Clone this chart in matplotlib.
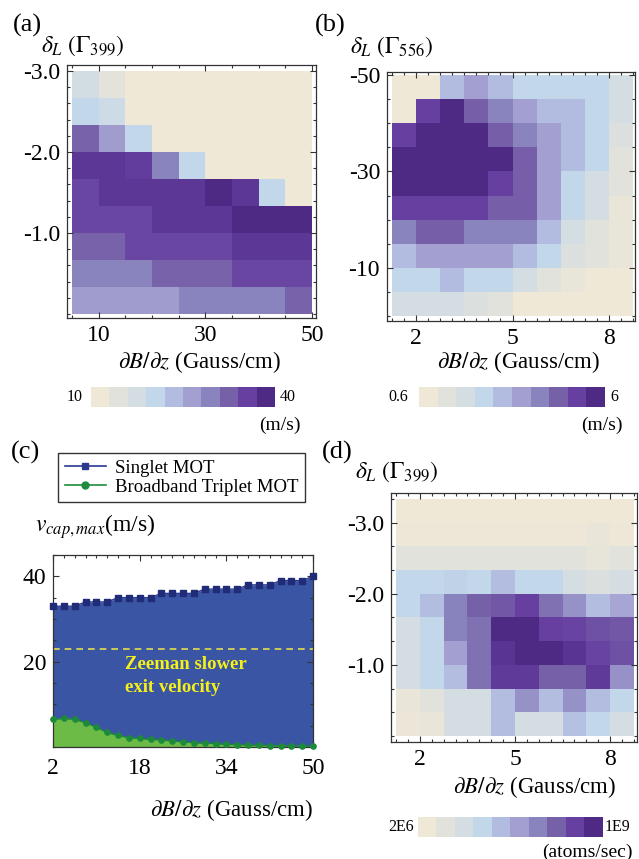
import numpy as np
import matplotlib
matplotlib.use('Agg')
import matplotlib.pyplot as plt
from matplotlib.colors import LinearSegmentedColormap, ListedColormap, Normalize, LogNorm
from matplotlib.ticker import AutoMinorLocator
from matplotlib.lines import Line2D

plt.rcParams['font.family'] = ['Liberation Serif', 'DejaVu Serif']
plt.rcParams['mathtext.fontset'] = 'stix'
plt.rcParams['axes.unicode_minus'] = False

# ---- data -------------------------------------------------------------
# (a) singlet MOT capture velocity (m/s), rows from delta=-3.0 (top) to 0
grad_a = np.arange(5, 51, 5)             # cell edges, Gauss/cm
det_a = np.linspace(-3.0, 0.0, 10)       # cell edges, Gamma_399
vcap_a = np.array([
    [17, 13, 10, 10, 10, 10, 10, 10, 10],
    [20, 18, 10, 10, 10, 10, 10, 10, 10],
    [33, 27, 20, 10, 10, 10, 10, 10, 10],
    [38, 38, 37, 30, 20, 10, 10, 10, 10],
    [36, 38, 38, 38, 38, 40, 38, 20, 10],
    [36, 36, 36, 38, 38, 38, 40, 40, 40],
    [33, 33, 36, 36, 36, 36, 38, 38, 38],
    [30, 30, 30, 33, 33, 33, 36, 36, 36],
    [27, 27, 27, 27, 30, 30, 30, 30, 33],
])

# (b) broadband triplet MOT capture velocity (m/s), rows from -50 (top) to 0
grad_bd = np.linspace(1.25, 8.75, 11)    # cell edges, Gauss/cm
det_b = np.linspace(-50, 0, 11)          # cell edges, Gamma_556
vcap_b = np.array([
    [0.6, 0.6, 3.0, 3.6, 3.0, 2.4, 2.4, 2.4, 2.4, 1.8],
    [0.6, 5.4, 6.0, 4.8, 4.2, 3.6, 3.0, 3.0, 2.4, 1.8],
    [5.4, 6.0, 6.0, 6.0, 4.8, 4.2, 3.6, 3.0, 2.4, 1.5],
    [6.0, 6.0, 6.0, 6.0, 6.0, 4.8, 3.6, 3.0, 2.4, 1.2],
    [6.0, 6.0, 6.0, 6.0, 5.4, 4.8, 3.6, 2.4, 1.8, 1.2],
    [5.4, 5.4, 5.4, 5.4, 4.8, 4.8, 3.6, 2.4, 1.8, 0.9],
    [4.2, 4.8, 4.8, 4.2, 4.2, 4.2, 3.0, 1.8, 1.2, 0.9],
    [3.0, 3.6, 3.6, 3.6, 3.6, 3.0, 2.4, 1.5, 1.2, 0.9],
    [2.4, 2.4, 3.0, 2.4, 2.4, 1.8, 1.2, 0.9, 0.6, 0.6],
    [1.8, 1.8, 1.8, 1.5, 1.2, 0.6, 0.6, 0.6, 0.6, 0.6],
])

# (c) maximum capture velocity vs gradient
grad_c = np.arange(2, 51, 2)
v_singlet = [33, 33, 33, 34, 34, 34, 35, 35, 35, 35, 36, 36, 36,
             36, 37, 37, 37, 37, 38, 38, 38, 39, 39, 39, 40]
v_triplet = [6.5, 6.7, 6.5, 5.7, 4.6, 3.4, 2.7, 2.2, 2.0, 1.8, 1.65, 1.4,
             1.2, 1.0, 0.9, 0.8, 0.6, 0.55, 0.45, 0.4, 0.3, 0.3, 0.2, 0.2, 0.15]
v_zeeman = 23

# (d) loading rate (atoms/sec), rows from -3.33 (top) to 0
det_d = np.linspace(-10 / 3, 0, 11)
load_d = np.array([
    [2.0e6, 2.0e6, 2.0e6, 2.0e6, 2.0e6, 2.0e6, 2.0e6, 2.0e6, 2.0e6, 2.0e6],
    [2.3e6, 2.3e6, 2.3e6, 2.3e6, 2.3e6, 2.3e6, 2.3e6, 2.3e6, 2.8e6, 2.3e6],
    [4.0e6, 4.0e6, 4.0e6, 4.0e6, 4.0e6, 4.0e6, 4.0e6, 4.0e6, 3.2e6, 4.0e6],
    [1.6e7, 1.6e7, 1.8e7, 1.6e7, 3.1e7, 1.6e7, 1.6e7, 7.9e6, 5.6e6, 7.9e6],
    [1.6e7, 3.1e7, 1.3e8, 2.5e8, 3.0e8, 5.0e8, 1.8e8, 9.0e7, 3.1e7, 5.5e7],
    [7.9e6, 1.6e7, 1.3e8, 1.8e8, 1.0e9, 1.0e9, 5.0e8, 4.5e8, 3.5e8, 3.0e8],
    [7.9e6, 1.6e7, 6.3e7, 1.8e8, 7.0e8, 1.0e9, 1.0e9, 7.0e8, 4.5e8, 3.5e8],
    [7.9e6, 1.6e7, 3.1e7, 1.8e8, 6.0e8, 6.0e8, 2.5e8, 2.5e8, 6.0e8, 9.0e7],
    [2.8e6, 4.0e6, 7.9e6, 7.9e6, 3.1e7, 9.0e7, 3.1e7, 9.0e7, 3.1e7, 1.6e7],
    [2.5e6, 2.8e6, 7.9e6, 7.9e6, 3.1e7, 7.9e6, 7.9e6, 2.8e7, 1.6e7, 7.9e6],
])

level_colors = ['#F0E8D6', '#E2E2DC', '#D3DDE2', '#C2D7EA', '#B2BCE0',
                '#A39FD0', '#8A84BE', '#7660A8', '#663FA0', '#4E2A84']
cmap = LinearSegmentedColormap.from_list('purples', level_colors)
cmap_steps = ListedColormap(level_colors)

# ---- layout helpers (pixels) -----------------------------------------
W, H = 639, 859
fig = plt.figure(figsize=(W / 100, H / 100), dpi=100)


def rect(l, t, r, b):
    return [l / W, 1 - b / H, (r - l) / W, (b - t) / H]


def ftext(x, y, s, **kw):
    kw.setdefault('ha', 'center')
    kw.setdefault('va', 'center')
    fig.text(x / W, 1 - y / H, s, **kw)


def style_frame(ax, xminor, yminor):
    for sp in ax.spines.values():
        sp.set_linewidth(0.9)
        sp.set_color('#333333')
    ax.tick_params(which='both', direction='in', top=True, right=True,
                   color='#333333', labelsize=17, width=0.8)
    ax.tick_params(which='major', length=4.5, pad=5)
    ax.tick_params(which='minor', length=2.5)
    ax.xaxis.set_minor_locator(AutoMinorLocator(xminor))
    ax.yaxis.set_minor_locator(AutoMinorLocator(yminor))


def heatmap(r, xe, ye, z, norm, xlim, ylim, xt, yt, ytl, xminor, yminor):
    ax = fig.add_axes(rect(*r))
    ax.pcolormesh(xe, ye, z, cmap=cmap, norm=norm, shading='flat',
                  edgecolors='none', antialiased=False)
    ax.set_xlim(*xlim)
    ax.set_ylim(*ylim)
    ax.set_xticks(xt)
    ax.set_yticks(yt)
    ax.set_yticklabels(ytl)
    style_frame(ax, xminor, yminor)
    return ax


def colorbar_strip(r):
    cax = fig.add_axes(rect(*r))
    cax.imshow(np.arange(len(level_colors))[None, :], cmap=cmap_steps,
               aspect='auto', interpolation='nearest')
    cax.axis('off')
    return cax


xlab = r'$\partial B/\partial z$ (Gauss/cm)'

# (a)
heatmap((67, 65, 316, 318), grad_a, det_a, vcap_a, Normalize(10, 40),
        (4.06, 50.75), (0.05, -3.075), [10, 30, 50], [-3, -2, -1],
        ['-3.0', '-2.0', '-1.0'], 4, 5)
ftext(27, 25, '(a)', fontsize=19)
ftext(41, 46, r'$\delta_L\ (\Gamma_{399})$', fontsize=17, ha='left')
ftext(199, 362, xlab, fontsize=16.5)
colorbar_strip((91, 387, 275, 407))
ftext(75, 397, '10', fontsize=11.5)
ftext(280, 397, '40', fontsize=11.5, ha='left')
ftext(301, 425, '(m/s)', fontsize=14, ha='right')

# (b)
heatmap((387, 72, 635, 321), grad_bd, det_b, vcap_b, Normalize(0.6, 6),
        (1.094, 8.81), (1.0, -50.6), [2, 5, 8], [-50, -30, -10],
        ['-50', '-30', '-10'], 8, 4)
ftext(330, 25, '(b)', fontsize=19)
ftext(350, 47, r'$\delta_L\ (\Gamma_{556})$', fontsize=17, ha='left')
ftext(518, 362, xlab, fontsize=16.5)
colorbar_strip((419, 387, 604, 407))
ftext(398, 397, '0.6', fontsize=11.5)
ftext(610, 397, '6', fontsize=11.5, ha='left')
ftext(623, 425, '(m/s)', fontsize=14, ha='right')

# (c)
axc = fig.add_axes(rect(53, 555, 313, 747))
axc.fill_between(grad_c, 0, v_singlet, color='#3A55A3', lw=0, zorder=1)
axc.plot(grad_c, v_singlet, color='#2A3990', lw=1, marker='s', ms=3.8,
         mfc='#202C78', mec='#202C78', zorder=3, clip_on=False)
axc.fill_between(grad_c, 0, v_triplet, color='#6CBB47', lw=0, zorder=2)
axc.plot(grad_c, v_triplet, color='#1D8A3B', lw=1, marker='o', ms=3.8,
         mfc='#1D8A3B', mec='#1D8A3B', zorder=3, clip_on=False)
axc.axhline(v_zeeman, color='#E4DC50', lw=1.2, ls=(0, (4, 3)), zorder=2)
axc.text(15.3, 19.3, 'Zeeman slower', color='#F4F01C', fontsize=13.5,
         fontweight='bold', ha='left', va='center', zorder=4)
axc.text(15.3, 13.9, 'exit velocity', color='#F4F01C', fontsize=13.5,
         fontweight='bold', ha='left', va='center', zorder=4)
axc.set_xlim(2, 50)
axc.set_ylim(0, 45)
axc.set_xticks([2, 18, 34, 50])
axc.set_yticks([20, 40])
style_frame(axc, 8, 4)
axc.tick_params(axis='x', pad=8)
ftext(25, 452, '(c)', fontsize=19)
ftext(35, 527, r'$v_{cap,max}$(m/s)', fontsize=17, ha='left')
ftext(231, 810, xlab, fontsize=16.5)
handles = [Line2D([], [], color='#2A3990', lw=1.2, marker='s', ms=5),
           Line2D([], [], color='#1E8C3E', lw=1.2, marker='o', ms=5)]
leg = fig.legend(handles, ['Singlet MOT', 'Broadband Triplet MOT'],
                 loc='upper left', bbox_to_anchor=(58 / W, 1 - 453 / H),
                 frameon=True, fancybox=False, fontsize=13.5, handlelength=2.2,
                 numpoints=1, borderpad=0.35, labelspacing=0.1,
                 handletextpad=0.5, borderaxespad=0)
leg.get_frame().set_edgecolor('black')
leg.get_frame().set_linewidth(1.0)

# (d)
heatmap((391, 493, 637, 742), grad_bd, det_d, load_d, LogNorm(2e6, 1e9),
        (1.092, 8.845), (0.084, -3.417), [2, 5, 8], [-3, -2, -1],
        ['-3.0', '-2.0', '-1.0'], 8, 3)
ftext(337, 452, '(d)', fontsize=19)
ftext(355, 472, r'$\delta_L\ (\Gamma_{399})$', fontsize=17, ha='left')
ftext(534, 787, xlab, fontsize=16.5)
colorbar_strip((418, 817, 603, 837))
ftext(414, 827, '2E6', fontsize=11.5, ha='right')
ftext(605, 827, '1E9', fontsize=11.5, ha='left')
ftext(633, 852, '(atoms/sec)', fontsize=14, ha='right')

fig.savefig('out.png', dpi=100, facecolor='white')
